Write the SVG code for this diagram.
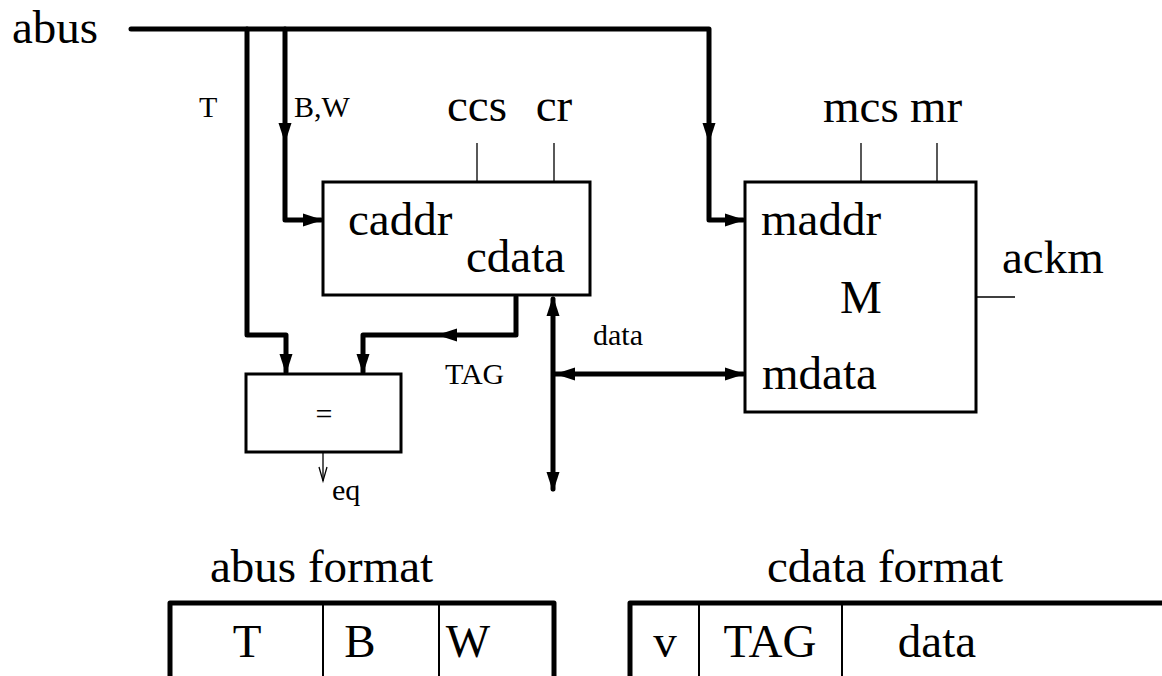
<svg xmlns="http://www.w3.org/2000/svg" width="1162" height="676" viewBox="0 0 1162 676">
  <style>
    .bus { fill: none; stroke: #000; stroke-width: 5; stroke-linejoin: round; stroke-linecap: round; }
    .box { fill: #fff; stroke: #000; stroke-width: 3; }
    .tick { fill: none; stroke: #000; stroke-width: 1.3; }
    .sep { fill: none; stroke: #000; stroke-width: 2; }
    .big { font-family: "Liberation Serif", "Times New Roman", serif; font-size: 47px; fill: #000; }
    .small { font-family: "Liberation Serif", "Times New Roman", serif; font-size: 30px; fill: #000; }
    .mid { text-anchor: middle; }
  </style>
  <defs>
    <!-- filled arrowhead, tip at origin, pointing along +x -->
    <path id="ah" d="M0,0 L-20,-6.5 L-20,6.5 Z" fill="#000"/>
    <!-- open thin arrowhead -->
    <path id="oh" d="M-14,-4 L0,0 L-14,4" fill="none" stroke="#000" stroke-width="1.3"/>
  </defs>

  <g id="connectors">
    <!-- address bus -->
    <path class="bus" d="M131,29 H709 V220 H743"/>
    <use href="#ah" transform="translate(709,143) rotate(90)"/>
    <use href="#ah" transform="translate(745,220)"/>
    <!-- T field to comparator -->
    <path class="bus" d="M247,29 V335 H286 V372"/>
    <use href="#ah" transform="translate(286,374) rotate(90)"/>
    <!-- B,W field to cache address -->
    <path class="bus" d="M285,29 V220 H321"/>
    <use href="#ah" transform="translate(285,143) rotate(90)"/>
    <use href="#ah" transform="translate(323,220)"/>
    <!-- TAG from cache data to comparator -->
    <path class="bus" d="M516,297 V335 H363 V372"/>
    <use href="#ah" transform="translate(437,335) rotate(180)"/>
    <use href="#ah" transform="translate(363,374) rotate(90)"/>
    <!-- data bus -->
    <path class="bus" d="M553,299 V489"/>
    <use href="#ah" transform="translate(553,296) rotate(-90)"/>
    <use href="#ah" transform="translate(553,492) rotate(90)"/>
    <path class="bus" d="M555,374 H743"/>
    <use href="#ah" transform="translate(555,374) rotate(180)"/>
    <use href="#ah" transform="translate(745,374)"/>
    <!-- control lines -->
    <path class="tick" d="M477,143 V182 M554,143 V182 M861,143 V182 M937,143 V182 M976,297 H1015"/>
    <!-- comparator output -->
    <path class="tick" d="M323,452 V481"/>
    <use href="#oh" transform="translate(323,481) rotate(90)"/>
  </g>

  <g id="abus-label">
    <text class="big" x="12" y="43">abus</text>
    <text class="small" x="199" y="117">T</text>
    <text class="small" x="294" y="117">B,W</text>
  </g>

  <g id="cache">
    <rect class="box" x="323" y="182" width="267" height="113"/>
    <text class="big mid" x="477" y="121">ccs</text>
    <text class="big mid" x="554" y="121">cr</text>
    <text class="big" x="348" y="235">caddr</text>
    <text class="big" x="466" y="272">cdata</text>
  </g>

  <g id="memory">
    <rect class="box" x="745" y="182" width="231" height="230"/>
    <text class="big" x="823" y="122">mcs</text>
    <text class="big" x="910" y="122">mr</text>
    <text class="big" x="761" y="235">maddr</text>
    <text class="big mid" x="861" y="313">M</text>
    <text class="big" x="762" y="389">mdata</text>
    <text class="big" x="1002" y="273">ackm</text>
  </g>

  <g id="comparator">
    <rect class="box" x="246" y="374" width="155" height="78"/>
    <text class="small mid" x="324" y="424">=</text>
    <text class="small" x="332" y="500">eq</text>
  </g>

  <g id="data-labels">
    <text class="small" x="593" y="345">data</text>
    <text class="small" x="445" y="384">TAG</text>
  </g>

  <g id="abus-format">
    <text class="big" x="210" y="582">abus format</text>
    <path class="bus" d="M170,680 V603 H554 V680"/>
    <path class="sep" d="M323,603 V680 M439,603 V680"/>
    <text class="big mid" x="247" y="657">T</text>
    <text class="big mid" x="360" y="657">B</text>
    <text class="big mid" x="468" y="657">W</text>
  </g>

  <g id="cdata-format">
    <text class="big" x="767" y="582">cdata format</text>
    <path class="bus" d="M630,680 V603 H1170"/>
    <path class="sep" d="M699,603 V680 M842,603 V680"/>
    <text class="big mid" x="665" y="657">v</text>
    <text class="big mid" x="770" y="657">TAG</text>
    <text class="big mid" x="937" y="657">data</text>
  </g>
</svg>
